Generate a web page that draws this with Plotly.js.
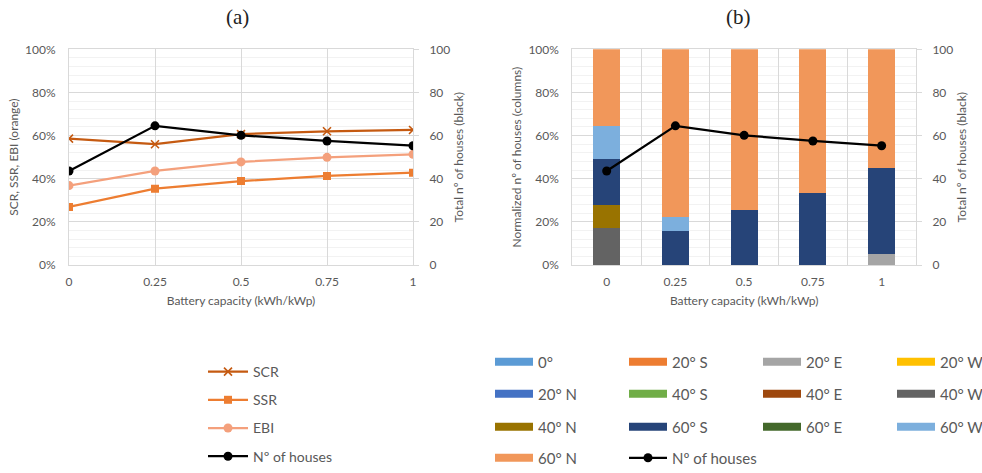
<!DOCTYPE html>
<html><head><meta charset="utf-8">
<script src="https://cdn.plot.ly/plotly-3.0.1.min.js"></script>
<style>html,body{margin:0;padding:0;background:#fff}#chart{width:982px;height:473px}</style>
</head><body><div id="chart"></div>
<script>
// ---- data ----
const battery = [0, 0.25, 0.5, 0.75, 1];
const batteryLabels = ['0', '0.25', '0.5', '0.75', '1'];
const scr = [0.586, 0.560, 0.607, 0.620, 0.626];
const ssr = [0.269, 0.354, 0.389, 0.413, 0.428];
const ebi = [0.368, 0.436, 0.478, 0.499, 0.513];
const houses = [43.6, 64.5, 60.1, 57.5, 55.3];

const orientations = ['0°', '20° S', '20° E', '20° W', '20° N', '40° S', '40° E', '40° W', '40º N', '60° S', '60° E', '60° W', '60° N'];
const orientationColors = ['#5b9bd5', '#ed7d31', '#a5a5a5', '#ffc000', '#4472c4', '#70ad47', '#9e480e', '#636363', '#997300', '#264478', '#43682b', '#7cafdd', '#f1975a'];
const o0   = [0, 0, 0, 0, 0];
const o20S = [0, 0, 0, 0, 0];
const o20E = [0, 0, 0, 0, 0.051];
const o20W = [0, 0, 0, 0, 0];
const o20N = [0, 0, 0, 0, 0];
const o40S = [0, 0, 0, 0, 0];
const o40E = [0, 0, 0, 0, 0];
const o40W = [0.170, 0, 0, 0, 0];
const o40N = [0.108, 0, 0, 0, 0];
const o60S = [0.212, 0.159, 0.255, 0.332, 0.397];
const o60E = [0, 0, 0, 0, 0];
const o60W = [0.154, 0.062, 0, 0, 0];
const o60N = [0.356, 0.779, 0.745, 0.668, 0.552];
const orientationValues = [o0, o20S, o20E, o20W, o20N, o40S, o40E, o40W, o40N, o60S, o60E, o60W, o60N];

// ---- style ----
const FONT = 'Lato, "Open Sans", sans-serif';
const GREY = '#595959';
const GRID = '#d9d9d9';
const MINOR = '#f2f2f2';
const W = 982, H = 473;
const px = v => v / W;
const py = v => 1 - v / H;

const traces = [];
// (a) lines
traces.push({x: battery, y: scr, name: 'SCR', type: 'scatter', mode: 'lines+markers', xaxis: 'x', yaxis: 'y',
  line: {color: '#c55a11', width: 2.25}, marker: {symbol: 'x-thin', size: 8, line: {color: '#c55a11', width: 1.6}},
  legend: 'legend', legendgroup: 'a1'});
traces.push({x: battery, y: ssr, name: 'SSR', type: 'scatter', mode: 'lines+markers', xaxis: 'x', yaxis: 'y',
  line: {color: '#ed7d31', width: 2.25}, marker: {symbol: 'square', size: 8, color: '#ed7d31'},
  legend: 'legend', legendgroup: 'a2'});
traces.push({x: battery, y: ebi, name: 'EBI', type: 'scatter', mode: 'lines+markers', xaxis: 'x', yaxis: 'y',
  line: {color: '#f4a07c', width: 2.25}, marker: {symbol: 'circle', size: 9, color: '#f4a07c'},
  legend: 'legend', legendgroup: 'a3'});
traces.push({x: battery, y: houses, name: 'Nº of houses', type: 'scatter', mode: 'lines+markers', xaxis: 'x', yaxis: 'y2',
  line: {color: '#000000', width: 2.25}, marker: {symbol: 'circle', size: 9, color: '#000000'},
  legend: 'legend', legendgroup: 'a4'});

// (b) stacked bars
orientations.forEach((name, i) => {
  traces.push({x: batteryLabels, y: orientationValues[i], name: name, type: 'bar', xaxis: 'x2', yaxis: 'y3',
    marker: {color: orientationColors[i], line: {width: 0}}, width: 0.39, showlegend: false, legendgroup: 'b' + i});
});
// legend swatches for the bar series (4 per row)
orientations.forEach((name, i) => {
  const row = Math.floor(i / 4);
  traces.push({x: [null], y: [null], name: name, type: 'scatter', mode: 'lines', xaxis: 'x2', yaxis: 'y3',
    line: {color: orientationColors[i], width: 8}, hoverinfo: 'skip',
    legend: row === 0 ? 'legend2' : 'legend' + (row + 2), legendgroup: 'b' + i});
});
traces.push({x: batteryLabels, y: houses, name: 'Nº of houses', type: 'scatter', mode: 'lines+markers', xaxis: 'x2', yaxis: 'y4',
  line: {color: '#000000', width: 2.25}, marker: {symbol: 'circle', size: 9, color: '#000000'},
  legend: 'legend5', legendgroup: 'bh'});

const rowLegendFont = {family: FONT, size: 15, color: GREY};
function rowLegend(y) {
  return {orientation: 'h', x: px(490), y: py(y), xanchor: 'left', yanchor: 'middle', font: rowLegendFont,
    entrywidth: 81, itemwidth: 38, bgcolor: 'rgba(0,0,0,0)', traceorder: 'normal', groupclick: 'toggleitem'};
}

const tickFont = {family: FONT, size: 12, color: GREY};
const titleFont = {family: FONT, size: 12, color: GREY};
const ydom = [(H - 265) / H, (H - 49.3) / H];

const layout = {
  width: W, height: H, margin: {l: 0, r: 0, t: 0, b: 0, autoexpand: false},
  paper_bgcolor: '#fff', plot_bgcolor: '#fff',
  font: {family: FONT, color: GREY},
  barmode: 'stack',
  xaxis: {domain: [px(69), px(413)], anchor: 'y', range: [0, 1], tick0: 0, dtick: 0.25,
    showgrid: true, gridcolor: GRID, zeroline: false, showline: true, linecolor: GRID, mirror: true,
    tickfont: tickFont, ticklabelstandoff: 6,
    title: {text: 'Battery capacity (kWh/kWp)', font: titleFont, standoff: 8}},
  yaxis: {domain: ydom, anchor: 'x', range: [0, 1], dtick: 0.2, tickformat: '.0%',
    showgrid: true, gridcolor: GRID, minor: {dtick: 0.04, showgrid: true, gridcolor: MINOR},
    zeroline: false, showline: true, linecolor: GRID, mirror: true,
    tickfont: tickFont, ticklabelstandoff: 10,
    title: {text: 'SCR, SSR, EBI (orange)', font: titleFont, standoff: 3}},
  yaxis2: {overlaying: 'y', anchor: 'x', side: 'right', range: [0, 100], dtick: 20,
    showgrid: false, zeroline: false, ticks: 'outside', ticklen: 5, tickcolor: GRID,
    tickfont: tickFont, ticklabelstandoff: 8,
    title: {text: 'Total nº of houses (black)', font: titleFont, standoff: 5}},
  xaxis2: {domain: [px(572.3), px(916)], anchor: 'y3', type: 'category', range: [-0.5, 4.5], tickson: 'boundaries',
    showgrid: true, gridcolor: GRID, zeroline: false, showline: true, linecolor: GRID, mirror: true,
    ticks: '', tickfont: tickFont, ticklabelstandoff: 6,
    title: {text: 'Battery capacity (kWh/kWp)', font: titleFont, standoff: 8}},
  yaxis3: {domain: ydom, anchor: 'x2', range: [0, 1], dtick: 0.2, tickformat: '.0%',
    showgrid: true, gridcolor: GRID, minor: {dtick: 0.04, showgrid: true, gridcolor: MINOR},
    zeroline: false, showline: true, linecolor: GRID, mirror: true,
    tickfont: tickFont, ticklabelstandoff: 10,
    title: {text: 'Normalized nº of houses (columns)', font: titleFont, standoff: 4}},
  yaxis4: {overlaying: 'y3', anchor: 'x2', side: 'right', range: [0, 100], dtick: 20,
    showgrid: false, zeroline: false, ticks: 'outside', ticklen: 5, tickcolor: GRID,
    tickfont: tickFont, ticklabelstandoff: 8,
    title: {text: 'Total nº of houses (black)', font: titleFont, standoff: 5}},
  legend: {orientation: 'v', x: px(203), y: py(356), xanchor: 'left', yanchor: 'top',
    font: {family: FONT, size: 14, color: GREY}, traceorder: 'grouped', tracegroupgap: 7, itemwidth: 40,
    bgcolor: 'rgba(0,0,0,0)', groupclick: 'toggleitem'},
  legend2: rowLegend(362),
  legend3: rowLegend(394),
  legend4: rowLegend(427),
  legend5: rowLegend(458),
  annotations: [
    {text: '(a)', x: px(237), y: py(17), xref: 'paper', yref: 'paper', showarrow: false, xanchor: 'center', yanchor: 'middle',
      font: {family: '"Liberation Serif", "DejaVu Serif", serif', size: 21, color: '#222'}},
    {text: '(b)', x: px(738), y: py(17), xref: 'paper', yref: 'paper', showarrow: false, xanchor: 'center', yanchor: 'middle',
      font: {family: '"Liberation Serif", "DejaVu Serif", serif', size: 21, color: '#222'}}
  ],
  showlegend: true
};

Plotly.newPlot('chart', traces, layout, {displayModeBar: false});
</script>
</body></html>
